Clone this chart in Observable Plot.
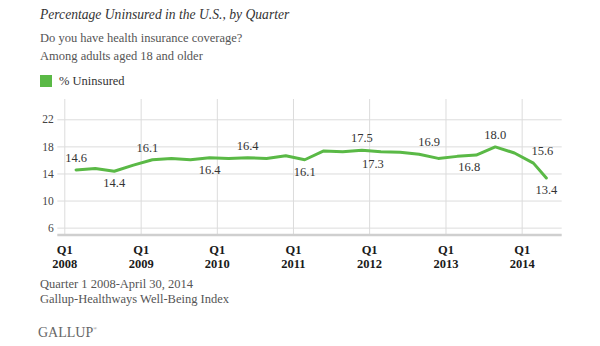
<!DOCTYPE html>
<html>
<head>
<meta charset="utf-8">
<script src="https://cdn.jsdelivr.net/npm/d3@7"></script>
<script src="https://cdn.jsdelivr.net/npm/@observablehq/plot@0.6"></script>
<style>
  html, body { margin: 0; padding: 0; background: #fff; }
  #wrap { position: relative; width: 600px; height: 346px; overflow: hidden; font-family: "Liberation Serif", "DejaVu Serif", serif; }
  .t { position: absolute; left: 40px; white-space: nowrap; }
  #title { top: 5px; font-size: 13.6px; font-style: italic; color: #333; line-height: 20px; }
  #sub1 { top: 29px; font-size: 12.5px; color: #555; line-height: 18px; }
  #sub2 { top: 47px; font-size: 12.5px; color: #555; line-height: 18px; }
  #legend { top: 72px; font-size: 12.5px; color: #333; line-height: 18px; }
  #legend .sw { display: inline-block; width: 12px; height: 12px; vertical-align: -2px; margin-right: 7px; }
  #foot1 { top: 275px; font-size: 12.5px; color: #555; line-height: 18px; }
  #foot2 { top: 290px; font-size: 12.5px; color: #555; line-height: 18px; }
  #logo { top: 320px; left: 38px; font-size: 14px; color: #666; line-height: 18px; }
  #logo sup { font-size: 5px; vertical-align: 7px; }
  #chart { position: absolute; left: 0; top: 90px; }
</style>
</head>
<body>
<div id="wrap">
  <div class="t" id="title">Percentage Uninsured in the U.S., by Quarter</div>
  <div class="t" id="sub1">Do you have health insurance coverage?</div>
  <div class="t" id="sub2">Among adults aged 18 and older</div>
  <div class="t" id="legend"><span class="sw" id="sw"></span>% Uninsured</div>
  <div id="chart"></div>
  <div class="t" id="foot1">Quarter 1 2008-April 30, 2014</div>
  <div class="t" id="foot2">Gallup-Healthways Well-Being Index</div>
  <div class="t" id="logo">GALLUP<sup>®</sup></div>
</div>
<script>
// ---- data ----
const periods = ["2008-02-24","2008-05-26","2008-08-25","2008-11-25",
                 "2009-02-24","2009-05-26","2009-08-25","2009-11-25",
                 "2010-02-24","2010-05-26","2010-08-25","2010-11-25",
                 "2011-02-24","2011-05-26","2011-08-25","2011-11-25",
                 "2012-02-24","2012-05-26","2012-08-25","2012-11-25",
                 "2013-02-24","2013-05-26","2013-08-25","2013-11-25",
                 "2014-02-24","2014-04-27"];
const uninsured = [14.6, 14.8, 14.4, 15.3,
                   16.1, 16.3, 16.1, 16.4,
                   16.3, 16.4, 16.3, 16.7,
                   16.1, 17.4, 17.3, 17.5,
                   17.3, 17.2, 16.9, 16.3,
                   16.6, 16.8, 18.0, 17.1,
                   15.6, 13.4];
const labelsAbove = [0, 4, 9, 15, 18, 22, 24];   // indexes of points labelled above the line
const labelsBelow = [2, 7, 12, 16, 21, 25];      // indexes of points labelled below the line
const yTicks = [6, 10, 14, 18, 22];
const xTickYears = ["2008","2009","2010","2011","2012","2013","2014"];
const seriesName = "% Uninsured";

// ---- styling ----
const green = "#5ab946";
const gridColor = "#dcdcdc";
const labelNudge = {4: -5, 16: -8, 18: 10, 21: -7, 24: 9};
document.getElementById("sw").style.background = green;

const data = periods.map((d, i) => ({date: new Date(d), value: uninsured[i], i}));
const xTicks = xTickYears.map(y => new Date(y + "-01-01"));

const font = "Liberation Serif, DejaVu Serif, serif";
const labelMark = (idx, dy) => Plot.text(data.filter(d => d.i === idx), {
  x: "date", y: "value", text: d => d.value.toFixed(1), dy, dx: labelNudge[idx] || 0,
  fill: "#333", fontSize: 12.5, textAnchor: "middle", lineAnchor: "middle"});

const chart = Plot.plot({
  width: 600,
  height: 188,
  marginLeft: 64.3,
  marginRight: 38.3,
  marginTop: 9,
  marginBottom: 43.6,
  style: {fontFamily: font, fontSize: "12px", color: "#333", background: "transparent"},
  x: {type: "utc", domain: [new Date("2008-01-01"), new Date("2014-07-12")]},
  y: {domain: [5, 25]},
  marks: [
    Plot.gridX(xTicks, {stroke: gridColor, strokeOpacity: 1, strokeWidth: 1}),
    Plot.gridY(yTicks, {stroke: gridColor, strokeOpacity: 1, strokeWidth: 1}),
    Plot.axisY(yTicks, {tickSize: 7, tickPadding: 4, stroke: gridColor, strokeOpacity: 1, fill: "#444", fontSize: 11.5, label: null}),
    Plot.ruleY([5], {stroke: "#cfcfcf", strokeWidth: 2.5, insetLeft: -7}),
    Plot.axisX(xTicks, {tickSize: 0, tickPadding: 9, fill: "#1a1a1a", fontSize: 12.5, fontWeight: "bold",
      lineHeight: 1.12, label: null, tickFormat: d => "Q1\n" + d.getUTCFullYear()}),
    Plot.line(data, {x: "date", y: "value", stroke: green, strokeWidth: 3, curve: "linear", strokeLinejoin: "round", strokeLinecap: "round"}),
    ...labelsAbove.map(i => labelMark(i, -12)),
    ...labelsBelow.map(i => labelMark(i, 12))
  ]
});
document.getElementById("chart").appendChild(chart);
</script>
</body>
</html>
